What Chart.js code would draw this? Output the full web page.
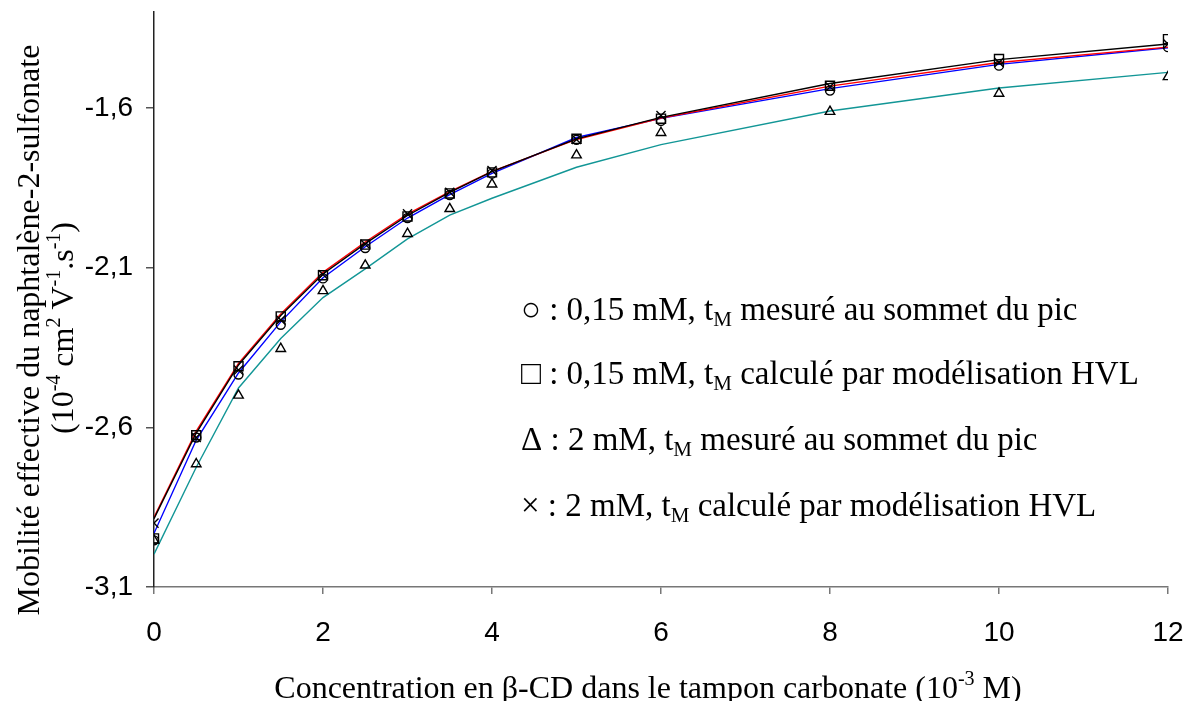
<!DOCTYPE html>
<html>
<head>
<meta charset="utf-8">
<script src="https://cdn.jsdelivr.net/npm/chart.js@4.4.1/dist/chart.umd.min.js"></script>
<style>
  html, body { margin:0; padding:0; background:#fff; }
  #wrap { width:1193px; height:701px; }
</style>
</head>
<body>
<div id="wrap"><canvas id="chart" width="1193" height="701"></canvas></div>
<script>
// [beta-CD] in 1e-3 M
const concentrations = [0, 0.5, 1, 1.5, 2, 2.5, 3, 3.5, 4, 5, 6, 8, 10, 12];

// measured points (1e-4 cm2 V-1 s-1)
const mobCircle   = [-2.954, -2.632, -2.435, -2.279, -2.134, -2.039, -1.945, -1.873, -1.806, -1.700, -1.641, -1.546, -1.468, -1.410];
const mobSquare   = [-2.948, -2.625, -2.409, -2.253, -2.124, -2.028, -1.940, -1.868, -1.802, -1.697, -1.634, -1.531, -1.447, -1.385];
const mobTriangle = [-2.954, -2.715, -2.500, -2.354, -2.173, -2.093, -1.994, -1.916, -1.839, -1.748, -1.678, -1.612, -1.555, -1.503];
const mobCross    = [-2.900, -2.632, -2.421, -2.264, -2.122, -2.027, -1.932, -1.864, -1.796, -1.699, -1.624, -1.534, -1.458, -1.400];

// fitted curves
const fitBlack = [-2.886, -2.618, -2.405, -2.250, -2.120, -2.025, -1.937, -1.865, -1.800, -1.697, -1.630, -1.524, -1.449, -1.400];
const fitRed   = [-2.882, -2.612, -2.400, -2.245, -2.115, -2.020, -1.933, -1.862, -1.799, -1.699, -1.632, -1.532, -1.458, -1.410];
const fitBlue  = [-2.932, -2.640, -2.430, -2.270, -2.132, -2.035, -1.945, -1.872, -1.805, -1.693, -1.633, -1.540, -1.464, -1.412];
const fitTeal  = [-2.997, -2.725, -2.477, -2.322, -2.194, -2.104, -2.010, -1.936, -1.883, -1.786, -1.715, -1.610, -1.538, -1.489];

const yTicks = [-3.1, -2.6, -2.1, -1.6];

const legendLines = [
  [["\u25CB : 0,15 mM, t", ""], ["M", "sub"], [" mesuré au sommet du pic", ""]],
  [["\u25A1 : 0,15 mM, t", ""], ["M", "sub"], [" calculé par modélisation HVL", ""]],
  [["\u0394 : 2 mM, t", ""], ["M", "sub"], [" mesuré au sommet du pic", ""]],
  [["\u00D7 : 2 mM, t", ""], ["M", "sub"], [" calculé par modélisation HVL", ""]]
];
const xTitle = [["Concentration en \u03B2-CD dans le tampon carbonate (10", ""], ["-3", "sup"], [" M)", ""]];
const yTitle1 = [["Mobilité effective du naphtalène-2-sulfonate", ""]];
const yTitle2 = [["(10", ""], ["-4", "sup"], [" cm", ""], ["2", "sup"], [" V", ""], ["-1", "sup"], [".s", ""], ["-1", "sup"], [")", ""]];

const SERIF = '"Liberation Serif", "Times New Roman", serif';
const SANS = '"Liberation Sans", Arial, sans-serif';

function pts(arr){
  return concentrations.map((x, i)=>({x, y: arr[i]}));
}

function fontFor(kind, size){
  return (kind ? Math.round(size*0.64) : size) + "px " + SERIF;
}

// draws text pieces with sub/superscripts; align "left" or "center"
function drawRich(ctx, parts, x, cy, size, align){
  let w = 0;
  parts.forEach(p=>{ ctx.font = fontFor(p[1], size); w += ctx.measureText(p[0]).width; });
  let cx = align === "center" ? x - w/2 : x;
  const base = cy + size*0.33;
  ctx.textBaseline = "alphabetic";
  ctx.textAlign = "left";
  parts.forEach(p=>{
    ctx.font = fontFor(p[1], size);
    let dy = 0;
    if (p[1] === "sup") dy = -size*0.4;
    if (p[1] === "sub") dy = size*0.2;
    ctx.fillText(p[0], cx, base + dy);
    cx += ctx.measureText(p[0]).width;
  });
}

const richText = {
  id: "richText",
  afterDraw(chart){
    const ctx = chart.ctx;
    ctx.save();
    ctx.fillStyle = "#000";
    drawRich(ctx, xTitle, 648, 687, 32, "center");

    ctx.save();
    ctx.translate(28, 330);
    ctx.rotate(-Math.PI/2);
    drawRich(ctx, yTitle1, 0, 0, 32, "center");
    ctx.restore();

    ctx.save();
    ctx.translate(62, 328);
    ctx.rotate(-Math.PI/2);
    drawRich(ctx, yTitle2, 0, 0, 32, "center");
    ctx.restore();

    const ys = [309, 373, 439, 505];
    legendLines.forEach((l, i)=> drawRich(ctx, l, 521, ys[i], 33, "left"));
    ctx.restore();
  }
};

function markerSet(data, style, r){
  return {
    data: pts(data),
    showLine: false,
    pointStyle: style,
    pointRadius: r,
    pointBorderColor: "#000",
    pointBackgroundColor: "rgba(0,0,0,0)",
    pointBorderWidth: 1.4
  };
}

function lineSet(data, color){
  return {
    data: pts(data),
    showLine: true,
    borderColor: color,
    borderWidth: 1.4,
    pointRadius: 0,
    fill: false,
    tension: 0
  };
}

function noPad(s){
  s.paddingTop = 0; s.paddingBottom = 0; s.paddingLeft = 0; s.paddingRight = 0;
}

new Chart(document.getElementById("chart"), {
  type: "scatter",
  data: {
    datasets: [
      markerSet(mobCircle, "circle", 4.5),
      markerSet(mobSquare, "rect", 6.4),
      markerSet(mobTriangle, "triangle", 5.5),
      markerSet(mobCross, "crossRot", 6.4),
      lineSet(fitBlack, "#000000"),
      lineSet(fitRed, "#ff0000"),
      lineSet(fitBlue, "#0000ff"),
      lineSet(fitTeal, "#129696")
    ]
  },
  options: {
    responsive: false,
    animation: false,
    devicePixelRatio: 1,
    layout: { padding: { top: 12, right: 25, left: 0, bottom: 0 } },
    plugins: { legend: { display: false }, tooltip: { enabled: false } },
    scales: {
      x: {
        type: "linear",
        min: 0, max: 12,
        ticks: { stepSize: 2, color: "#000", font: { family: SANS, size: 28 }, padding: 22 },
        grid: { drawOnChartArea: false, drawTicks: true, tickLength: 7, color: "#777", lineWidth: 1.5 },
        border: { color: "#777", width: 1.5 },
        afterFit: (s)=>{ s.height = 114; noPad(s); }
      },
      y: {
        type: "linear",
        min: -3.1, max: -1.3,
        afterBuildTicks: (s)=>{ s.ticks = yTicks.map(v=>({value: v})); },
        ticks: {
          color: "#000",
          font: { family: SANS, size: 28 },
          padding: 13,
          callback: (v)=> String(v).replace(".", ",")
        },
        grid: { drawOnChartArea: false, drawTicks: true, tickLength: 8, color: "#555", lineWidth: 1.5 },
        border: { color: "#222", width: 1.5 },
        afterFit: (s)=>{ s.width = 154; noPad(s); }
      }
    }
  },
  plugins: [richText]
});
</script>
</body>
</html>
